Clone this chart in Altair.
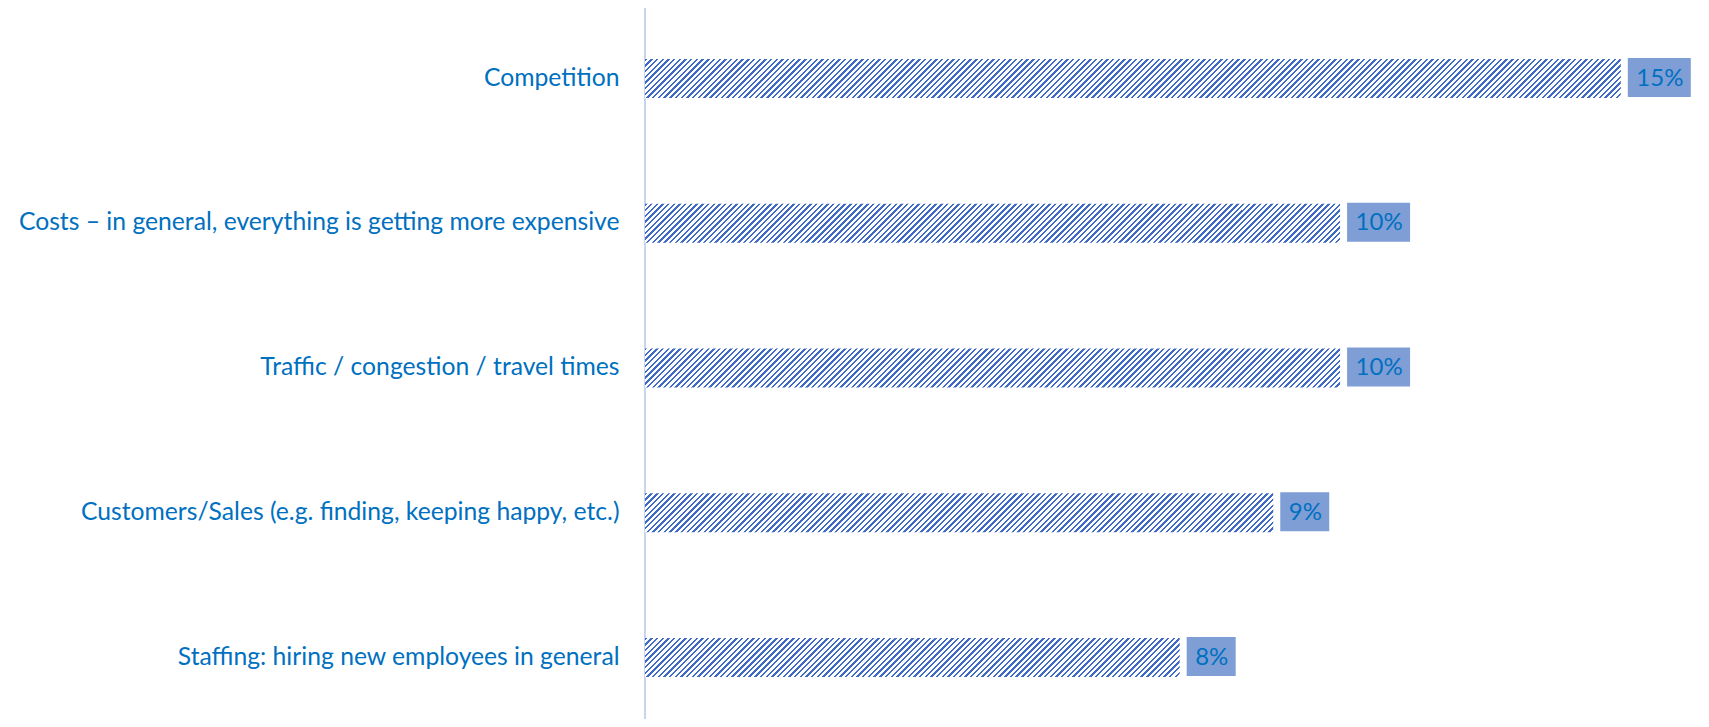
import altair as alt
import pandas as pd

categories = [
    "Competition",
    "Costs \u2013 in general, everything is getting more expensive",
    "Traffic / congestion / travel times",
    "Customers/Sales (e.g. finding, keeping happy, etc.)",
    "Staffing: hiring new employees in general",
]
values = [14.6, 10.4, 10.4, 9.4, 8.0]
labels = ["15%", "10%", "10%", "9%", "8%"]

df = pd.DataFrame({"cat": categories, "value": values, "label": labels})

PLOT_W = 1056
PLOT_H = 711
XMAX = 15.8
STEP = 144.75
PAD_IN = 0.73
BAR_H = STEP * (1 - PAD_IN)
LABEL_BLUE = "#0070C0"
STRIPE = "#3F6BC6"
BOX = "#7F9ED6"
FONT = "Lato"


def hatch(width, height, period=5.7, duty=0.42):
    c = (width + height) / (width * width + height * height)
    n = int(round((width + height) / period))
    stops = []
    for k in range(n):
        a, b, e = k / n, (k + duty) / n, (k + 1) / n
        stops += [
            alt.GradientStop(offset=a, color=STRIPE),
            alt.GradientStop(offset=b, color=STRIPE),
            alt.GradientStop(offset=b, color="#ffffff"),
            alt.GradientStop(offset=e, color="#ffffff"),
        ]
    return alt.LinearGradient(
        gradient="linear", x1=0, y1=0, x2=width * c, y2=height * c, stops=stops
    )


yenc = alt.Y(
    "cat:N",
    sort=categories,
    scale=alt.Scale(paddingInner=PAD_IN, paddingOuter=0.321, align=0.5486),
    axis=alt.Axis(
        title=None,
        ticks=False,
        tickSize=0,
        grid=False,
        domain=False,
        labelPadding=26,
        labelColor=LABEL_BLUE,
        labelFont=FONT,
        labelFontSize=24.7,
        labelLimit=0,
    ),
)
xenc = alt.X("value:Q", scale=alt.Scale(domain=[0, XMAX], nice=False), axis=None)

base = alt.Chart(df)

axis_line = (
    alt.Chart(pd.DataFrame({"zero": [0]}))
    .mark_rule(color="#A9BEE6", strokeWidth=1.3)
    .encode(x=alt.X("zero:Q", scale=alt.Scale(domain=[0, XMAX], nice=False), axis=None))
)

layers = []
for cat, v in zip(categories, values):
    w = v / XMAX * PLOT_W
    layers.append(
        base.transform_filter(alt.datum.cat == cat)
        .mark_bar(fill=hatch(w, BAR_H), strokeWidth=0)
        .encode(x=xenc, y=yenc)
    )

box2 = (
    base.transform_filter("length(datum.label) > 2")
    .mark_rect(color=BOX, xOffset=7, x2Offset=70, yOffset=-1, y2Offset=1)
    .encode(x=xenc, x2=alt.X2("value"), y=yenc)
)
box1 = (
    base.transform_filter("length(datum.label) <= 2")
    .mark_rect(color=BOX, xOffset=7, x2Offset=56, yOffset=-1, y2Offset=1)
    .encode(x=xenc, x2=alt.X2("value"), y=yenc)
)
text = base.mark_text(
    align="left", baseline="middle", dx=15.5, font=FONT, fontSize=24, color=LABEL_BLUE
).encode(x=xenc, y=yenc, text="label:N")

chart = (
    alt.layer(axis_line, *layers, box2, box1, text)
    .properties(
        width=PLOT_W,
        height=PLOT_H,
        background="white",
        autosize=alt.AutoSizeParams(type="none"),
        padding={"left": 637, "top": 0, "right": 0, "bottom": 0},
    )
    .configure_view(strokeWidth=0, stroke="transparent")
)

chart.save("out.html", embed_options={"renderer": "svg", "actions": False})
